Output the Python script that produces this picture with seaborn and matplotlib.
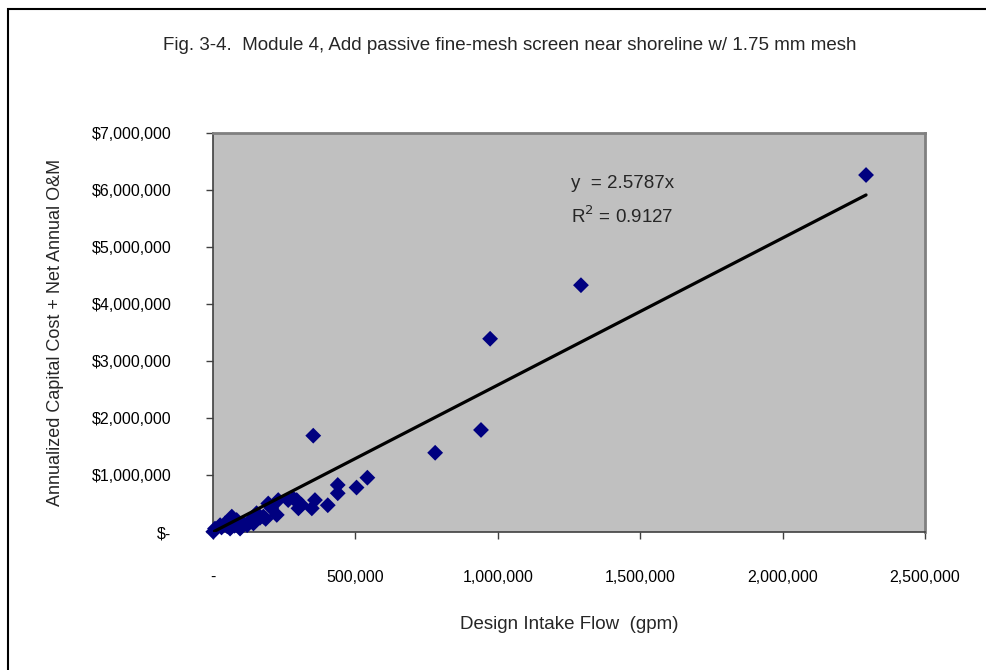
import matplotlib.pyplot as plt
import matplotlib.ticker as mticker
from matplotlib.patches import Rectangle
import seaborn as sns
import pandas as pd
import numpy as np

# Design intake flow (gpm) and annualized cost ($)
flow_gpm = [1000, 7000, 25000, 42000, 60000, 66000, 83000, 95000, 106000, 120000,
            142000, 153000, 165000, 177000, 194000, 205000, 224000, 229000, 264000,
            282000, 294000, 300000, 310000, 347000, 352000, 358000, 403000, 438000,
            438000, 504000, 542000, 780000, 941000, 973000, 1292000, 2293000,
            30000, 50000, 75000, 130000, 185000]
annual_cost = [5000, 60000, 120000, 150000, 60000, 270000, 210000, 60000, 150000, 120000,
               150000, 330000, 250000, 270000, 500000, 420000, 300000, 560000, 560000,
               590000, 560000, 415000, 480000, 415000, 1690000, 560000, 470000, 680000,
               825000, 780000, 953000, 1390000, 1790000, 3390000, 4330000, 6263000,
               80000, 100000, 110000, 200000, 230000]
slope = 2.5787
r_squared = 0.9127

x_ticks = [0, 500000, 1000000, 1500000, 2000000, 2500000]
y_ticks = [0, 1000000, 2000000, 3000000, 4000000, 5000000, 6000000, 7000000]

title = "Fig. 3-4.  Module 4, Add passive fine-mesh screen near shoreline w/ 1.75 mm mesh"
xlabel = "Design Intake Flow  (gpm)"
ylabel = "Annualized Capital Cost + Net Annual O&M"

df = pd.DataFrame({"flow": flow_gpm, "cost": annual_cost})
trend = pd.DataFrame({"flow": [0, max(flow_gpm)]})
trend["cost"] = slope * trend["flow"]

sns.set_style("white")
plt.rcParams["font.family"] = ["Liberation Sans Narrow", "Liberation Sans", "DejaVu Sans"]

fig = plt.figure(figsize=(9.87, 6.70), dpi=100)
ax = fig.add_axes([213 / 987, 1 - 532 / 670, 712 / 987, 399 / 670])
ax.set_facecolor("#C0C0C0")

sns.scatterplot(data=df, x="flow", y="cost", marker="D", s=65, color="#000080",
                edgecolor="none", ax=ax, clip_on=False, zorder=3)
sns.lineplot(data=trend, x="flow", y="cost", color="black", linewidth=2.3, ax=ax, zorder=4)

ax.set_xlim(0, 2500000)
ax.set_ylim(0, 7000000)
ax.set_xticks(x_ticks)
ax.set_yticks(y_ticks)
ax.xaxis.set_major_formatter(mticker.FuncFormatter(lambda v, p: "-" if v == 0 else f"{int(v):,}"))
ax.yaxis.set_major_formatter(mticker.FuncFormatter(lambda v, p: "$-" if v == 0 else f"${int(v):,}"))
ax.tick_params(axis="both", direction="out", length=5, width=1, color="#404040",
               labelsize=11.5, labelcolor="black")
ax.tick_params(axis="y", pad=25)
ax.tick_params(axis="x", pad=22)
ax.tick_params(bottom=True, left=True)

for side in ["left", "bottom"]:
    ax.spines[side].set_color("#404040")
    ax.spines[side].set_linewidth(1.2)
for side in ["top", "right"]:
    ax.spines[side].set_visible(True)
    ax.spines[side].set_color("#808080")
    ax.spines[side].set_linewidth(2)

ax.set_xlabel(xlabel, fontsize=13.5, labelpad=23)
ax.set_ylabel(ylabel, fontsize=13, labelpad=20)

ax.text(0.575, 0.862, "y  = 2.5787x", transform=ax.transAxes, ha="center", fontsize=13.5)
ax.text(0.575, 0.775, f"R$^2$ = {r_squared}", transform=ax.transAxes, ha="center", fontsize=13.5)

fig.text(510 / 987, 1 - 45 / 670, title, ha="center", va="center", fontsize=13.5)

fig.patches.append(Rectangle((8 / 987, -0.1), 1.2, 1 - 9 / 670 + 0.1, transform=fig.transFigure,
                             fill=False, edgecolor="black", linewidth=1.5))

fig.savefig("out.png", dpi=100)
